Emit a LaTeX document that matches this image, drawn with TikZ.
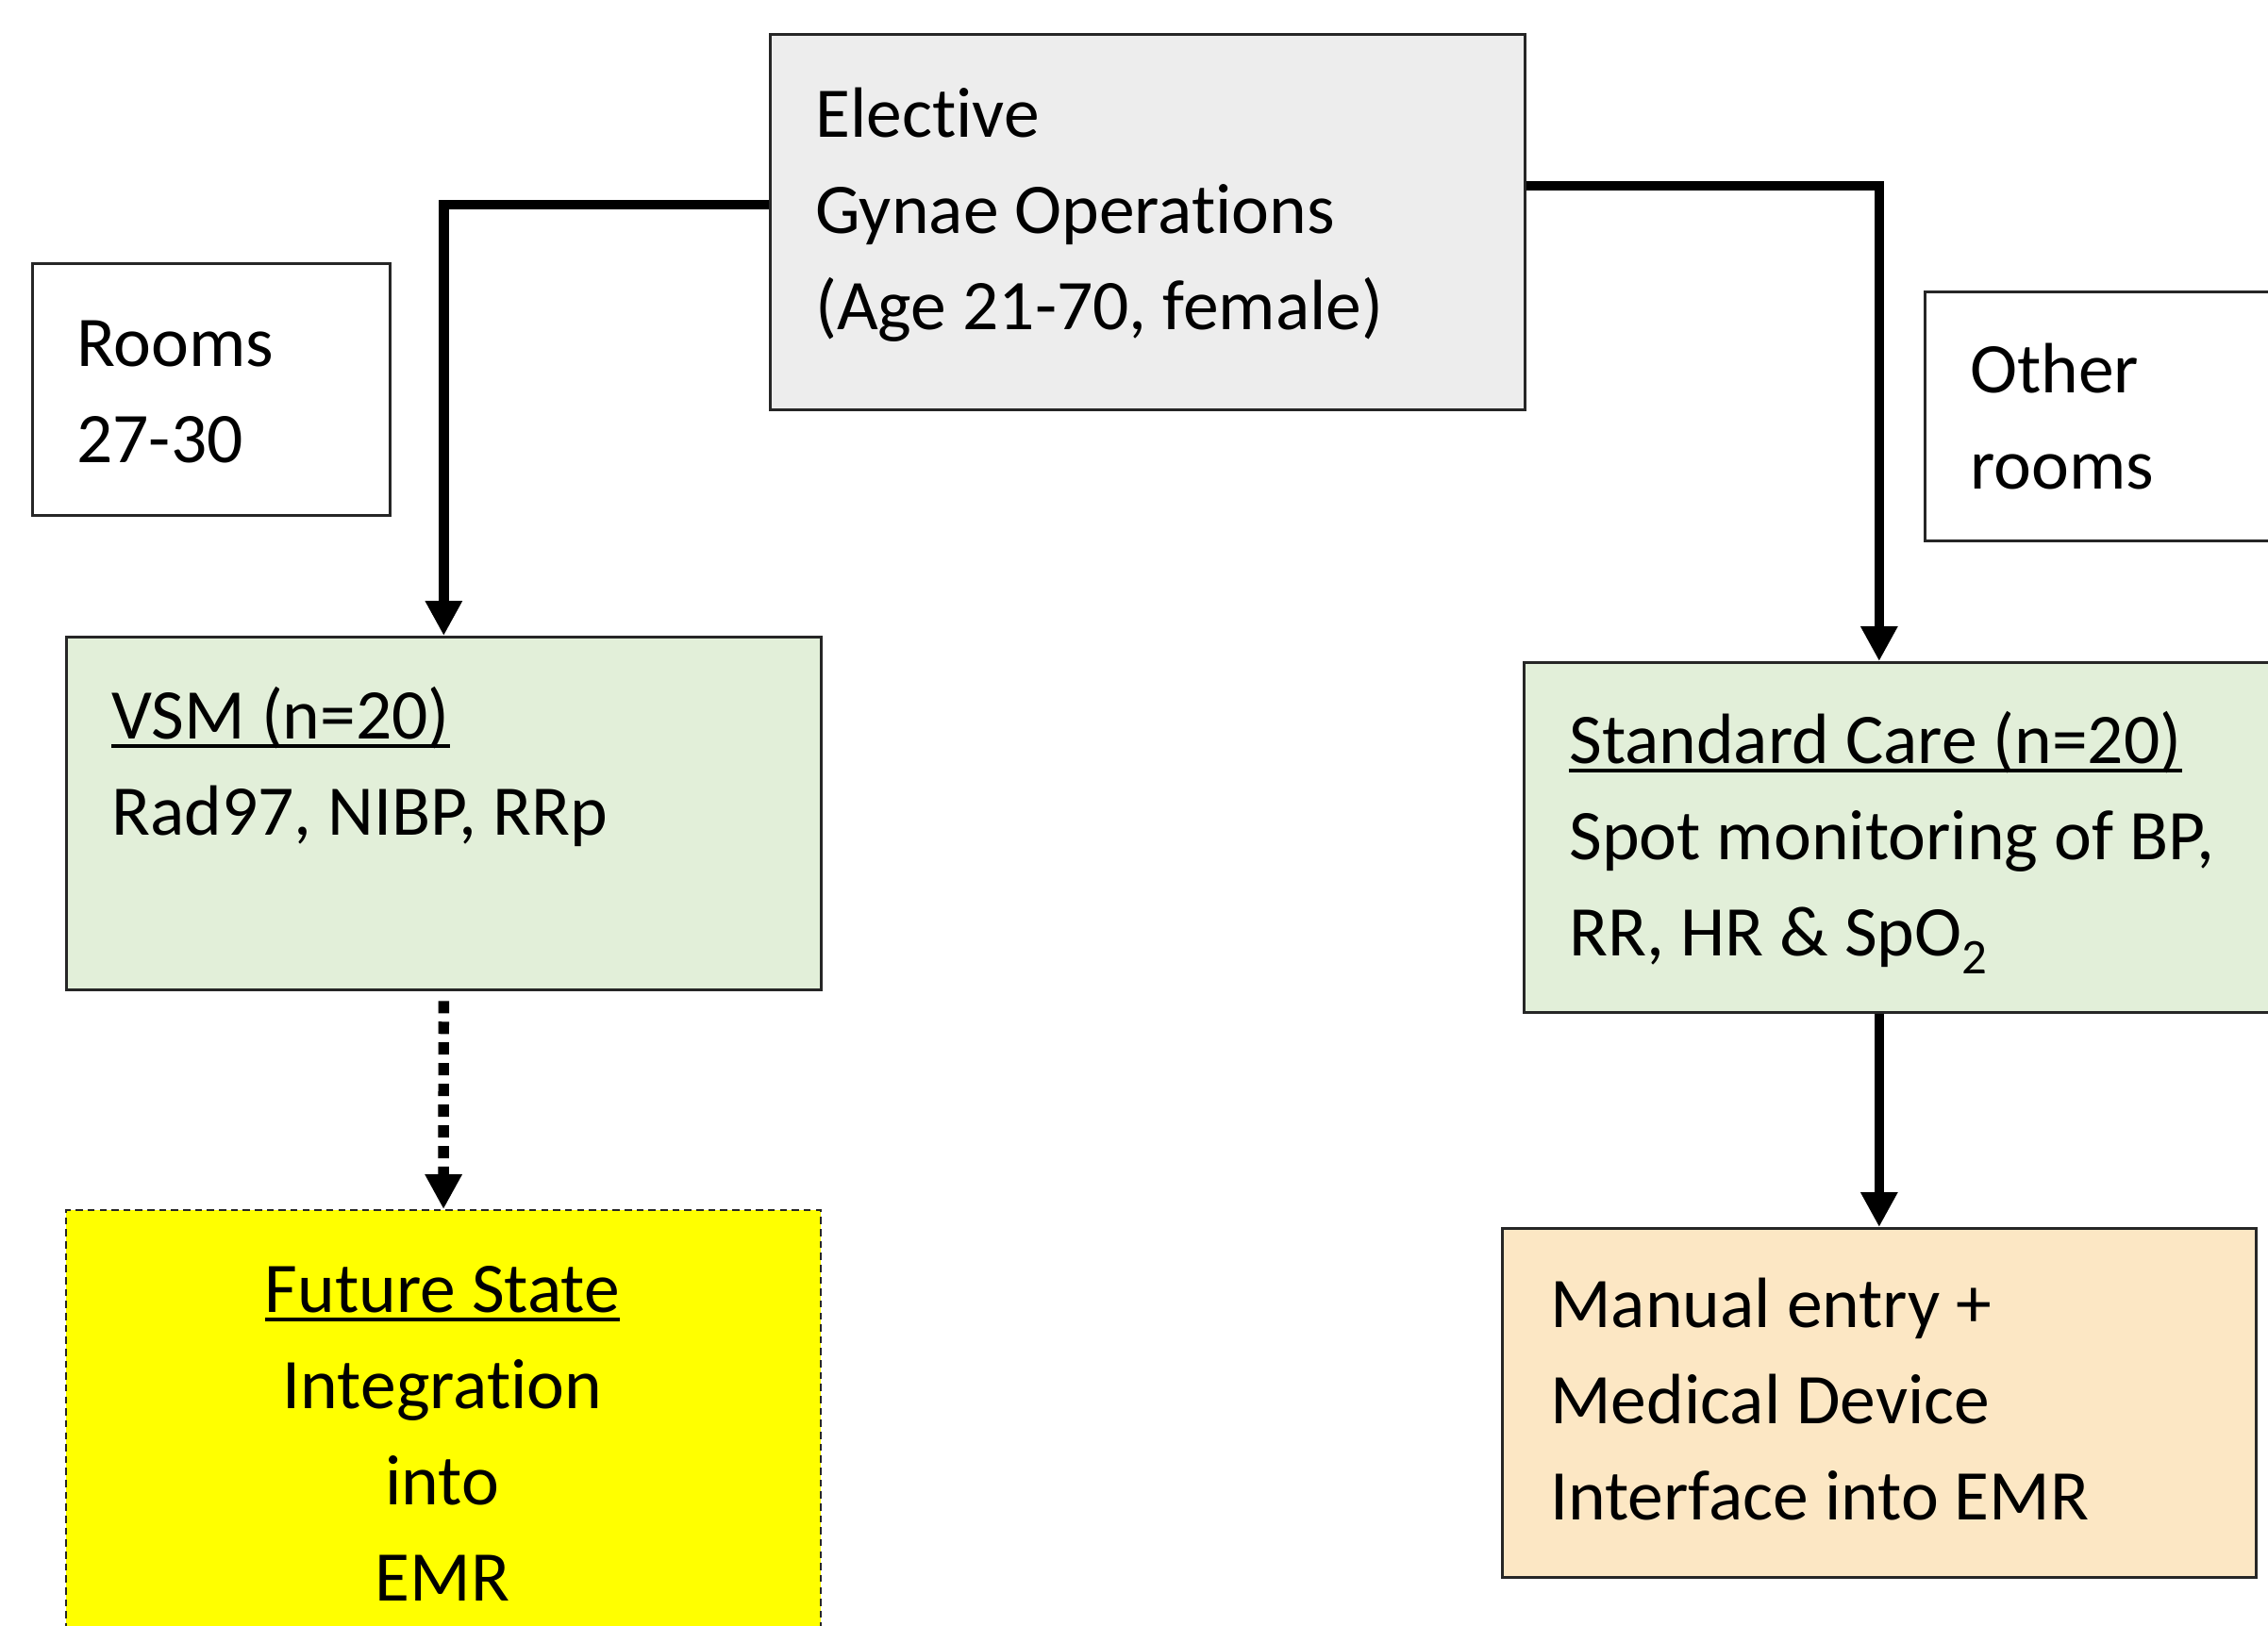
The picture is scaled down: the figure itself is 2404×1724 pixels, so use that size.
\documentclass[tikz,border=0pt]{standalone}
\usepackage{fontspec}
\setmainfont{Carlito}[Ligatures=NoCommon]
\usepackage{tikz}
\usetikzlibrary{arrows.meta}

\definecolor{electivegray}{HTML}{EDEDED}
\definecolor{armgreen}{HTML}{E2EFD9}
\definecolor{emrtan}{HTML}{FCE7C4}
\definecolor{futureyellow}{HTML}{FFFF00}

% heavier underline for the arm headings
\newcommand{\armhead}[1]{\setbox0\hbox{#1}\rlap{\rule[-5.5pt]{\wd0}{2.4pt}}\box0}

\begin{document}
\begin{tikzpicture}[
    x=0.02cm, y=-0.02cm,
    box/.style={draw=black!85, line width=1.6pt, inner sep=0pt, anchor=north west},
    txt/.style={inner sep=0pt, anchor=base west, align=left,
        font=\fontsize{43}{58}\selectfont},
    flow/.style={line width=6pt, -{Triangle[length=21pt,width=21pt]}},
    future/.style={flow, line width=6.5pt, dash pattern=on 7.4pt off 5.1pt}
    ]
    \useasboundingbox (0,0) rectangle (2404,1724);
    \clip (0,0) rectangle (2404,1724);

    % boxes
    \node[box, fill=electivegray, minimum width=16cm, minimum height=7.96cm] (elective) at (815,35) {};
    \node[box, fill=white, minimum width=7.58cm, minimum height=5.34cm] (rooms) at (33,278) {};
    \node[box, fill=white, minimum width=8.02cm, minimum height=5.28cm] (others) at (2039,308) {};
    \node[box, fill=armgreen, minimum width=16cm, minimum height=7.48cm] (vsm) at (69,674) {};
    \node[box, fill=armgreen, minimum width=16.52cm, minimum height=7.42cm] (stdcare) at (1614,701) {};
    \node[box, fill=futureyellow, line width=1.3pt, dash pattern=on 4.3pt off 2.9pt,
        minimum width=16cm, minimum height=9.6cm] (futurebox) at (69,1282) {};
    \node[box, fill=emrtan, minimum width=15.98cm, minimum height=7.4cm] (manual) at (1591,1301) {};

    % texts (anchored on the baseline of the last line)
    \node[txt] (electivetext) at (864,349) {Elective\\Gynae Operations\\(Age 21-70, female)};
    \node[txt] (roomstext) at (81,490) {Rooms\\27-30};
    \node[txt] (otherstext) at (2088,518) {Other\\rooms};
    \node[txt] (vsmtext) at (118,885) {\armhead{VSM (n=20)}\\Rad97, NIBP, RRp};
    \node[txt] (stdtext) at (1663,1013) {\armhead{Standard Care (n=20)}\\Spot monitoring of BP,\\RR, HR \& SpO\textsubscript{2}};
    \node[txt, anchor=base, align=center] (futuretext) at (469,1697) {\armhead{Future State}\\Integration\\into\\EMR};
    \node[txt] (manualtext) at (1643,1611) {Manual entry +\\Medical Device\\Interface into EMR};

    % connectors
    \coordinate (lsplit) at (469,217);
    \coordinate (rsplit) at (1995,197);
    \draw[flow] (elective.west |- lsplit) -| (vsm.north);
    \draw[flow] (elective.east |- rsplit) -| (manual.north |- stdcare.north);
    \draw[future, shorten <=6pt] (vsm.south) -- (futurebox.north);
    \draw[flow] (manual.north |- stdcare.south) -- (manual.north);
\end{tikzpicture}
\end{document}
